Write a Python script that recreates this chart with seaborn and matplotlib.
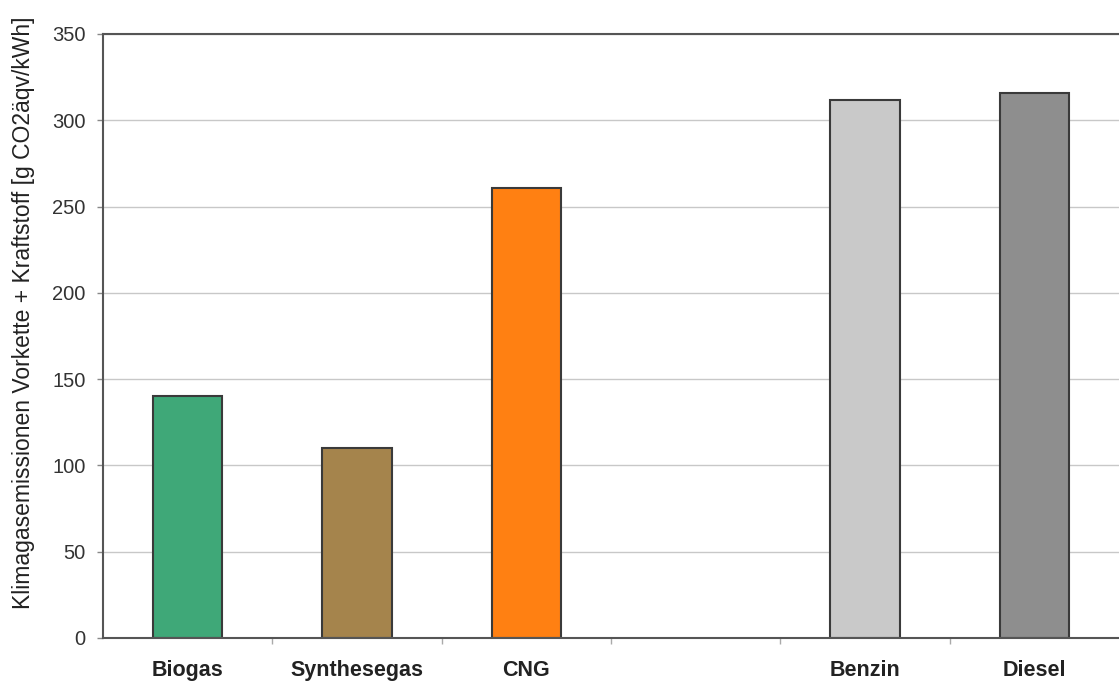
import numpy as np
import pandas as pd
import matplotlib.pyplot as plt
import seaborn as sns

# values
fuels = ["Biogas", "Synthesegas", "CNG", "Benzin", "Diesel"]
emissions = [140, 110, 261, 312, 316]
slot_order = ["Biogas", "Synthesegas", "CNG", " ", "Benzin", "Diesel"]
bar_colors = ["#3fa878", "#a5844c", "#ff8012", "#c9c9c9", "#8e8e8e"]
y_ticks = [0, 50, 100, 150, 200, 250, 300, 350]

df = pd.DataFrame({"fuel": fuels, "co2": emissions})

sns.set_style("white", {"xtick.bottom": True, "ytick.left": True})
plt.rcParams["font.family"] = ["Liberation Sans", "DejaVu Sans"]

fig = plt.figure(figsize=(11.19, 6.88), dpi=100)
ax = fig.add_axes([0.092, 0.0727, 0.908, 0.878])

sns.barplot(data=df, x="fuel", y="co2", order=slot_order, hue="fuel",
            palette=dict(zip(fuels, bar_colors)), legend=False, saturation=1,
            width=0.41, edgecolor="#3a3a3a", linewidth=1.5, ax=ax)

ax.set_xlim(-0.5, 5.5)
ax.set_ylim(0, 350)
ax.set_yticks(y_ticks)
ax.yaxis.grid(True, color="#c8c8c8", linewidth=1)
ax.set_axisbelow(True)

ax.set_xlabel("")
ax.set_ylabel("Klimagasemissionen Vorkette + Kraftstoff [g CO2äqv/kWh]",
              fontsize=16.5, color="#222222")
ax.yaxis.set_label_coords(-0.067, 0.538)

for lbl in ax.get_xticklabels():
    lbl.set_fontweight("bold")
ax.tick_params(axis="x", which="major", length=0, labelsize=15.5, pad=16, colors="#222222")
ax.set_xticks(np.arange(0.5, 5.5, 1), minor=True)
ax.tick_params(axis="x", which="minor", bottom=True, length=4, width=1,
               color="#aaaaaa", direction="out")
ax.tick_params(axis="y", which="major", left=True, length=4.5, width=1, pad=8,
               labelsize=14.5, color="#888888", labelcolor="#333333", direction="out")

for side in ["left", "bottom", "top"]:
    ax.spines[side].set_visible(True)
    ax.spines[side].set_color("#555555")
    ax.spines[side].set_linewidth(1.5)
ax.spines["right"].set_visible(False)

fig.savefig("out.png", dpi=100)
